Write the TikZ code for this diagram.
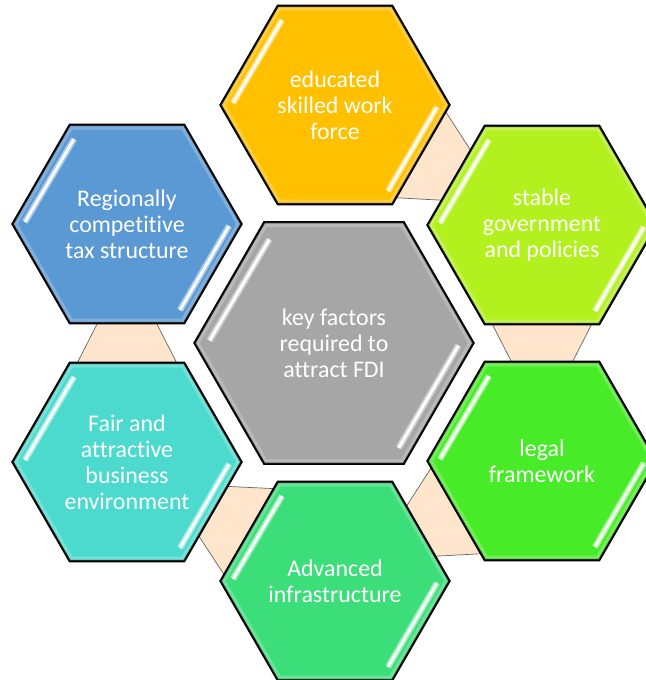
\documentclass[tikz,border=0pt]{standalone}
\usepackage{fontspec}
\setmainfont{Carlito}[Ligatures=CommonOff]
\usetikzlibrary{shapes.geometric,calc,backgrounds}

\definecolor{hexgold}{RGB}{255,192,0}
\definecolor{hexlime}{RGB}{178,240,30}
\definecolor{hexgreen}{RGB}{72,235,40}
\definecolor{hexmint}{RGB}{60,222,122}
\definecolor{hexteal}{RGB}{76,218,206}
\definecolor{hexblue}{RGB}{91,153,212}
\definecolor{hexgray}{RGB}{166,166,166}
\definecolor{peach}{RGB}{254,229,203}

\tikzset{
  hex/.style={regular polygon,regular polygon sides=6,minimum size=4.56cm,
    inner sep=0pt,draw=black,line width=0.9pt,fill=#1,text=white,
    align=center,font=\fontsize{13.6}{14.8}\selectfont},
  link/.style={fill=peach,draw=black!60,line width=0.4pt},
  shine/.style={draw=white,line width=1.5pt,
    preaction={draw=white,opacity=.5,line width=3.6pt}}
}

\begin{document}
\begin{tikzpicture}[x=0.02cm,y=-0.02cm]
\useasboundingbox (0,0) rectangle (646,680);

% the six factors round the middle
\node[hex=hexgray,minimum size=5.56cm] (core) at (334,343) {key factors\\required to\\attract FDI};
\node[hex=hexgold] (edu) at (335,105) {educated\\skilled work\\force};
\node[hex=hexlime] (gov) at (542,225) {stable\\government\\and policies};
\node[hex=hexgreen] (legal) at (542,461) {legal\\framework};
\node[hex=hexmint] (infra) at (335,581) {Advanced\\infrastructure};
\node[hex=hexteal] (biz) at (127,462) {Fair and\\attractive\\business\\environment};
\node[hex=hexblue] (tax) at (127,224) {Regionally\\competitive\\tax structure};

% tapered links behind the hexagons
\begin{scope}[on background layer]
\foreach \a/\b in {edu/gov,gov/legal,legal/infra,infra/biz,biz/tax}
  \draw[link] ($(\a)!1.6cm!(\b)!1.19cm!90:(\b)$)
    -- ($(\a)!3.2cm!(\b)!0.374cm!90:(\b)$)
    -- ($(\a)!3.2cm!(\b)!0.374cm!-90:(\b)$)
    -- ($(\a)!1.6cm!(\b)!1.19cm!-90:(\b)$) -- cycle;
\end{scope}

% soft rim inside each hexagon
\foreach \h in {core,edu,gov,legal,infra,biz,tax}{
  \begin{scope}
    \clip (\h.corner 1) -- (\h.corner 2) -- (\h.corner 3) -- (\h.corner 4)
      -- (\h.corner 5) -- (\h.corner 6) -- cycle;
    \draw[white,opacity=.22,line width=0.2cm] (\h.corner 1) -- (\h.corner 2)
      -- (\h.corner 3) -- (\h.corner 4) -- (\h.corner 5) -- (\h.corner 6) -- cycle;
  \end{scope}
  \draw[line width=0.9pt] (\h.corner 1) -- (\h.corner 2) -- (\h.corner 3)
    -- (\h.corner 4) -- (\h.corner 5) -- (\h.corner 6) -- cycle;
}

% glossy strokes
\foreach \h/\k in {core/1.22,edu/1,gov/1,legal/1,infra/1,biz/1,tax/1}{
  \draw[shine] ($(\h)+\k*(-53,-85)$) -- ($(\h)+\k*(-102,-2)$);
  \draw[shine] ($(\h)+\k*(102,2)$) -- ($(\h)+\k*(53,86)$);
}

\end{tikzpicture}
\end{document}
